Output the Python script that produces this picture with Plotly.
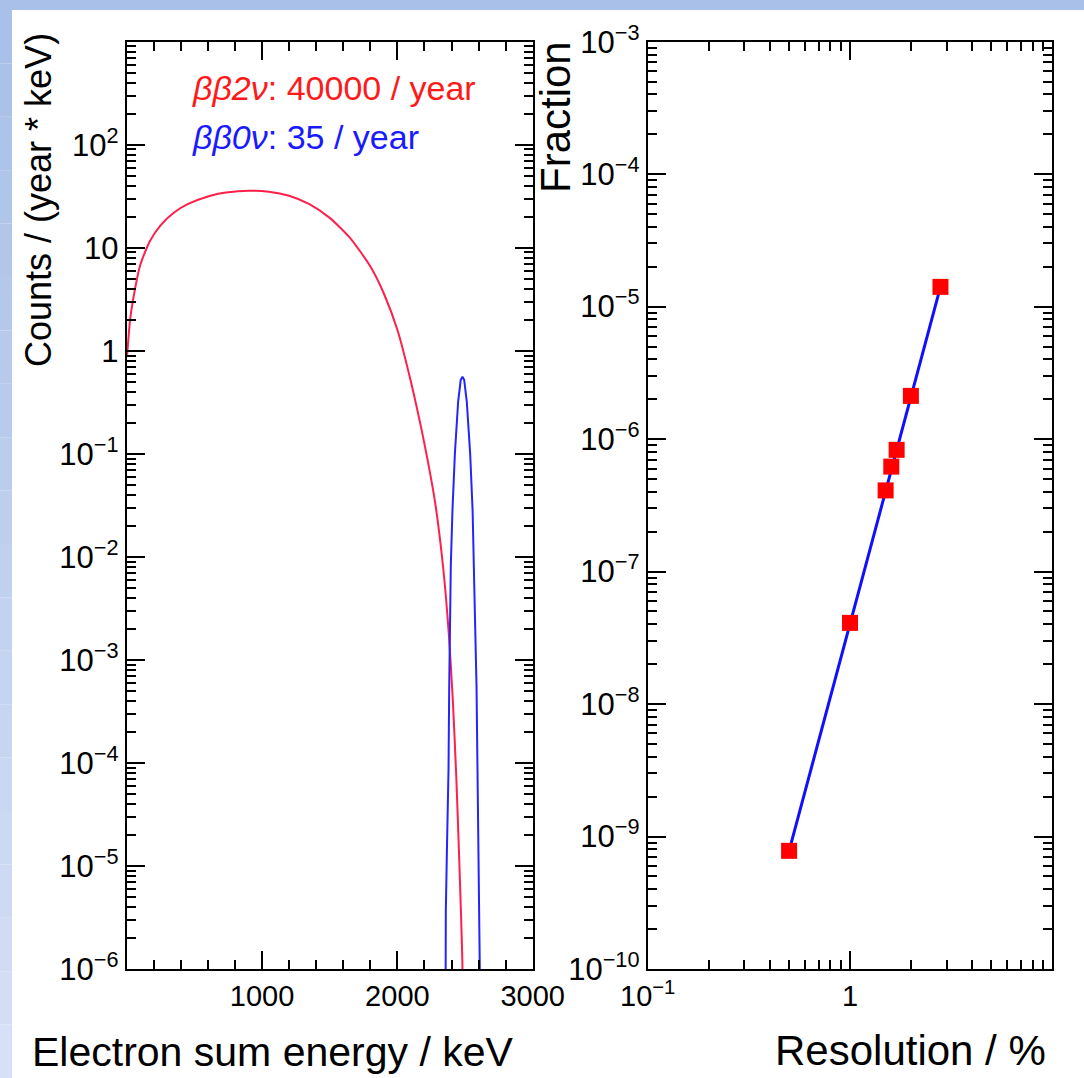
import plotly.graph_objects as go

# ---------------- data ----------------
energy_2nu = [3, 25, 50, 100, 170, 250, 350, 450, 600, 750, 900, 1050, 1200, 1350,
              1500, 1650, 1800, 1900, 2000, 2100, 2200, 2280, 2340, 2380, 2410,
              2435, 2455, 2470, 2480, 2490]
counts_2nu = [0.9, 2.0, 3.3, 6.8, 11.5, 16.5, 22.0, 26.5, 31.5, 34.5, 35.7, 35.0,
              32.0, 26.5, 19.5, 12.5, 6.6, 3.6, 1.6, 0.5, 0.125, 0.033, 7.5e-3,
              1.8e-3, 4.0e-4, 7.5e-5, 1.4e-5, 3.5e-6, 1.2e-6, 1e-7]

energy_0nu = [2355, 2358, 2366, 2378, 2383, 2388, 2395, 2407, 2425, 2449, 2468,
              2481, 2494, 2513, 2538, 2556, 2567, 2575, 2585, 2593, 2600, 2610, 2618]
counts_0nu = [1e-7, 3.6e-6, 1.4e-5, 8.7e-5, 5.4e-4, 2.1e-3, 8.3e-3, 0.028, 0.1,
              0.32, 0.52, 0.56, 0.52, 0.32, 0.1, 0.028, 8.3e-3, 2.1e-3, 5.4e-4,
              8.7e-5, 1.4e-5, 2.8e-6, 1e-7]

resolution = [0.5, 1.0, 1.5, 1.6, 1.7, 2.0, 2.8]
fraction = [7.8e-10, 4.1e-8, 4.1e-7, 6.2e-7, 8.3e-7, 2.12e-6, 1.41e-5]

left_x_ticks = [1000, 2000, 3000]
left_y_exps = [-6, -5, -4, -3, -2, -1, 0, 1, 2]
left_y_labels = ["10<sup>−6</sup>", "10<sup>−5</sup>", "10<sup>−4</sup>", "10<sup>−3</sup>",
                 "10<sup>−2</sup>", "10<sup>−1</sup>", "1", "10", "10<sup>2</sup>"]
right_x_vals = [0.1, 1]
right_x_labels = ["10<sup>−1</sup>", "1"]
right_y_exps = [-10, -9, -8, -7, -6, -5, -4, -3]
right_y_labels = ["10<sup>−10</sup>", "10<sup>−9</sup>", "10<sup>−8</sup>", "10<sup>−7</sup>",
                  "10<sup>−6</sup>", "10<sup>−5</sup>", "10<sup>−4</sup>", "10<sup>−3</sup>"]

# ---------------- layout helpers ----------------
W, H = 1084, 1078


def fx(p):
    return p / W


def fy(p):
    return 1 - p / H


FONT = "Liberation Sans, Arial, sans-serif"

fig = go.Figure()

fig.add_trace(go.Scatter(x=energy_2nu, y=counts_2nu, mode="lines",
                         line=dict(color="#ff1f4b", width=2, shape="spline", smoothing=0.6),
                         xaxis="x", yaxis="y", showlegend=False, hoverinfo="skip"))
fig.add_trace(go.Scatter(x=energy_0nu, y=counts_0nu, mode="lines",
                         line=dict(color="#2424ff", width=2),
                         xaxis="x", yaxis="y", showlegend=False, hoverinfo="skip"))
fig.add_trace(go.Scatter(x=[resolution[0], resolution[-1]], y=[fraction[0], fraction[-1]],
                         mode="lines", line=dict(color="#1010ff", width=3),
                         xaxis="x2", yaxis="y2", showlegend=False, hoverinfo="skip"))
fig.add_trace(go.Scatter(x=resolution, y=fraction, mode="markers",
                         marker=dict(symbol="square", size=16, color="#ff0000",
                                     line=dict(width=0)),
                         xaxis="x2", yaxis="y2", showlegend=False))


def log_minor(lo, hi):
    return [m * 10.0 ** d for d in range(lo, hi) for m in range(2, 10)]


common = dict(showgrid=False, zeroline=False, showline=True, linecolor="black",
              linewidth=2, mirror="allticks", ticks="inside", tickcolor="black",
              tickwidth=1.5, ticklen=18, automargin=False)
xfont = dict(family=FONT, size=29, color="black")
yfont = dict(family=FONT, size=31, color="black")

ydom = [fy(969), fy(41.7)]

fig.update_layout(
    width=W, height=H,
    margin=dict(l=0, r=0, t=0, b=0),
    paper_bgcolor="white", plot_bgcolor="white",
    xaxis=dict(domain=[fx(126.7), fx(532.7)], range=[0, 3000], anchor="y",
               tickmode="array", tickvals=left_x_ticks, tickfont=xfont,
               minor=dict(ticks="inside", ticklen=9, dtick=200, tick0=0,
                          tickcolor="black", tickwidth=1.5, showgrid=False),
               **common),
    yaxis=dict(domain=ydom, type="log", range=[-6, 3], anchor="x",
               tickmode="array", tickvals=[10.0 ** e for e in left_y_exps],
               ticktext=left_y_labels, tickfont=yfont,
               minor=dict(ticks="inside", ticklen=9, tickmode="array",
                          tickvals=log_minor(-6, 3), tickcolor="black",
                          tickwidth=1.5, showgrid=False),
               **common),
    xaxis2=dict(domain=[fx(647.7), fx(1052.3)], type="log", range=[-1, 1], anchor="y2",
                tickmode="array", tickvals=right_x_vals, ticktext=right_x_labels,
                tickfont=xfont,
                minor=dict(ticks="inside", ticklen=9, tickmode="array",
                           tickvals=log_minor(-1, 1), tickcolor="black",
                           tickwidth=1.5, showgrid=False),
                **common),
    yaxis2=dict(domain=ydom, type="log", range=[-10, -3], anchor="x2",
                tickmode="array", tickvals=[10.0 ** e for e in right_y_exps],
                ticktext=right_y_labels, tickfont=yfont,
                minor=dict(ticks="inside", ticklen=9, tickmode="array",
                           tickvals=log_minor(-10, -3), tickcolor="black",
                           tickwidth=1.5, showgrid=False),
                **common),
)

annotations = [
    dict(text="<i>ββ2ν</i>: 40000 / year", x=fx(190), y=fy(88), xanchor="left",
         yanchor="middle", font=dict(family=FONT, size=34, color="#ff1a1a")),
    dict(text="<i>ββ0ν</i>: 35 / year", x=fx(190), y=fy(137), xanchor="left",
         yanchor="middle", font=dict(family=FONT, size=34, color="#1a1aff")),
    dict(text="Counts / (year * keV)", x=fx(38), y=fy(200), textangle=-90,
         xanchor="center", yanchor="middle", font=dict(family=FONT, size=36, color="black")),
    dict(text="Fraction", x=fx(556), y=fy(117), textangle=-90,
         xanchor="center", yanchor="middle", font=dict(family=FONT, size=42, color="black")),
    dict(text="Electron sum energy / keV", x=fx(272), y=fy(1052),
         xanchor="center", yanchor="middle", font=dict(family=FONT, size=41, color="black")),
    dict(text="Resolution / %", x=fx(910), y=fy(1050),
         xanchor="center", yanchor="middle", font=dict(family=FONT, size=42, color="black")),
]
for a in annotations:
    a.update(xref="paper", yref="paper", showarrow=False)
fig.update_layout(annotations=annotations)

# decorative slide-like blue border (top band and left gradient band)
shapes = [dict(type="rect", xref="paper", yref="paper", x0=0, x1=1, y0=fy(10), y1=1,
               fillcolor="#a9c0e8", line=dict(width=0), layer="below")]
n = 20
for i in range(n):
    t = i / (n - 1)
    r = int(0xa9 + (0xd6 - 0xa9) * t)
    g = int(0xc0 + (0xe0 - 0xc0) * t)
    b = int(0xe8 + (0xf6 - 0xe8) * t)
    shapes.append(dict(type="rect", xref="paper", yref="paper", x0=0, x1=fx(12),
                       y0=fy(10 + (H - 10) * (i + 1) / n), y1=fy(10 + (H - 10) * i / n),
                       fillcolor=f"rgb({r},{g},{b})", line=dict(width=0), layer="below"))
fig.update_layout(shapes=shapes)

fig.write_html("out.html",
               config={"displayModeBar": False},
               post_script="document.body.style.margin='0px';"
                           "document.body.style.overflow='hidden';")
